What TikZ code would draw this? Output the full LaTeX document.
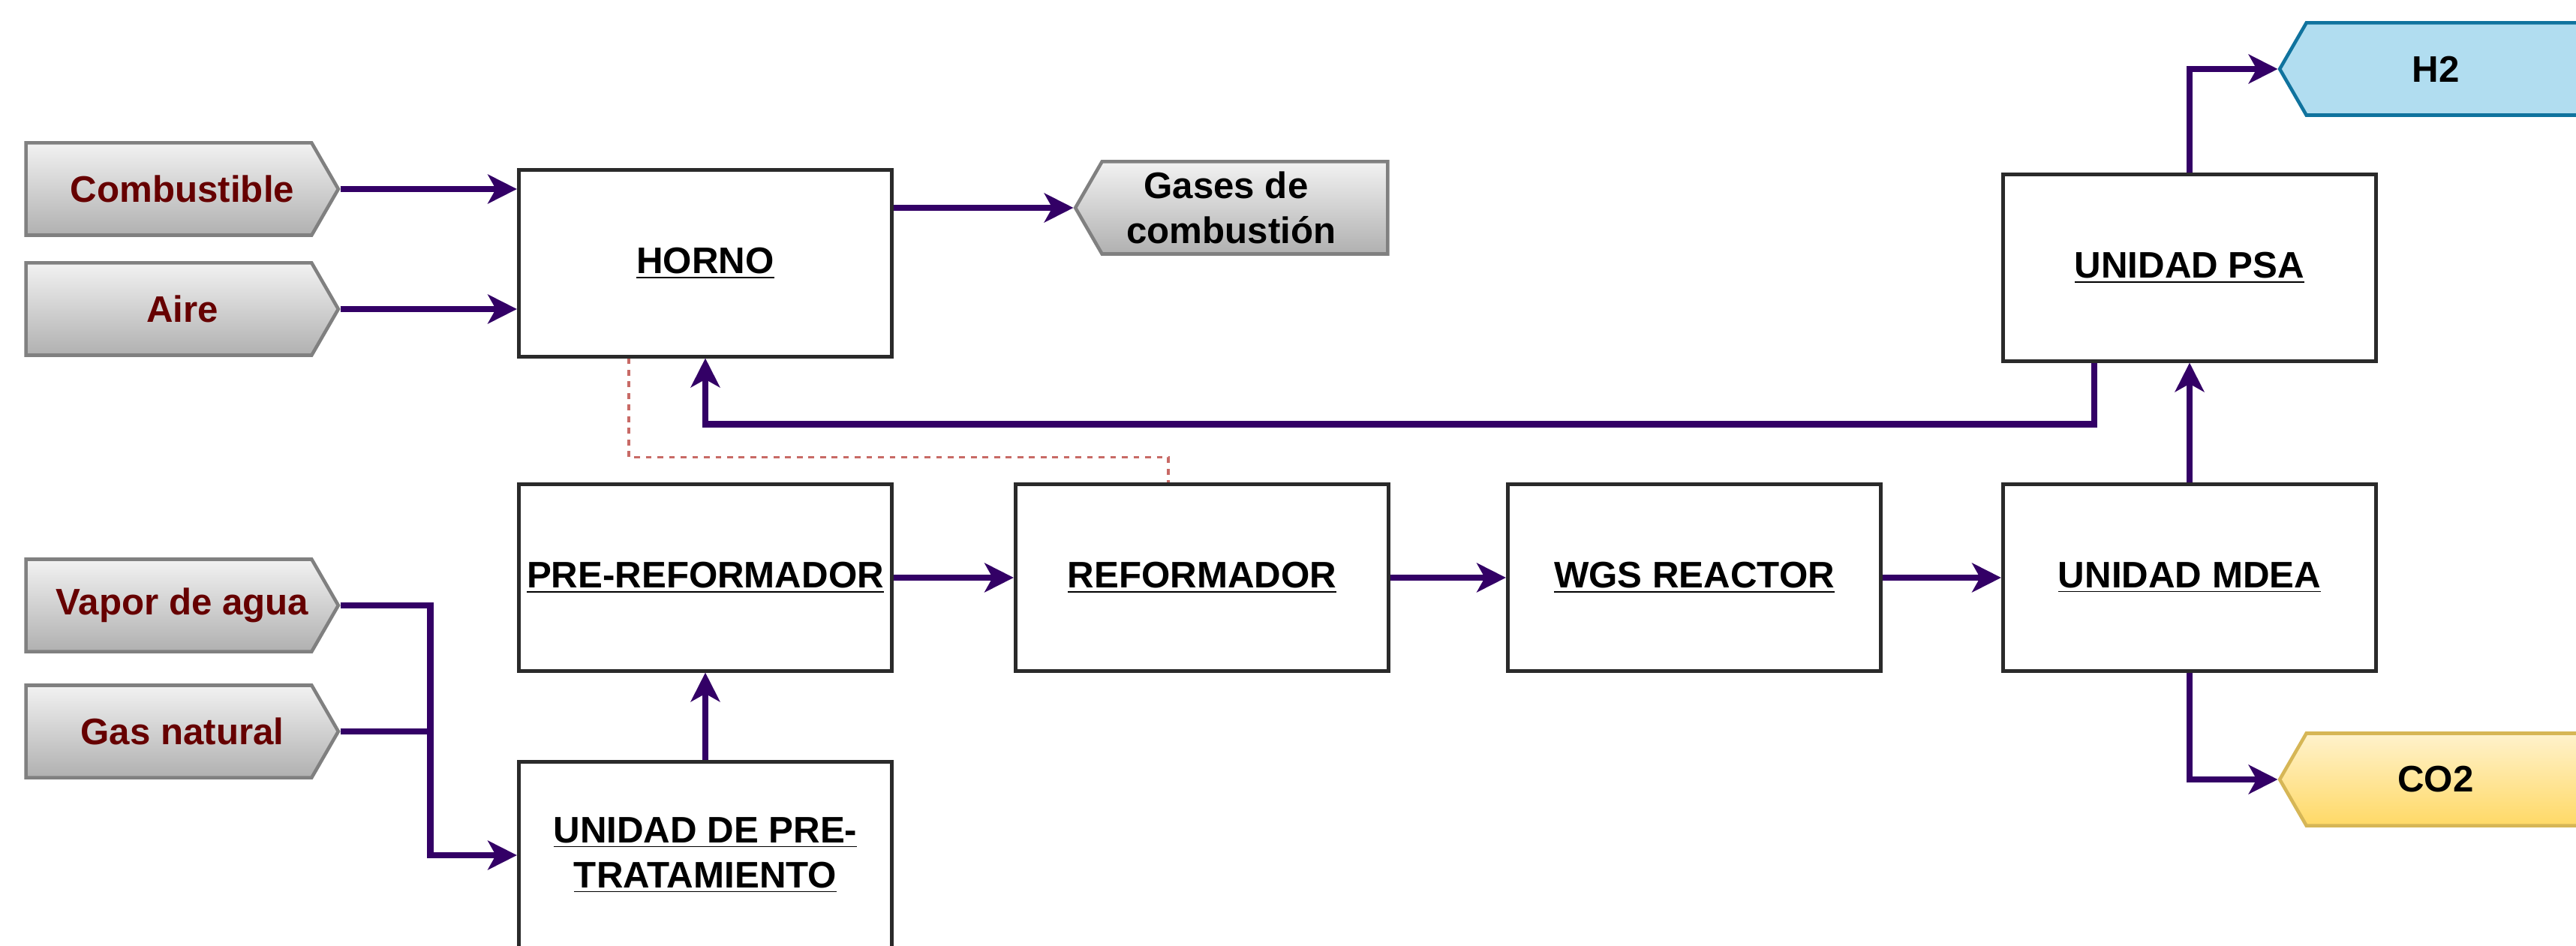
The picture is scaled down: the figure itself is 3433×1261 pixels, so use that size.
\documentclass[tikz,border=0pt]{standalone}
\usepackage{fontspec}
\setmainfont{Liberation Sans}
\usetikzlibrary{arrows.meta,shapes.symbols,shadings}
\definecolor{flowc}{HTML}{330066}
\definecolor{boxc}{HTML}{2A2A2A}
\definecolor{redc}{HTML}{C86A66}
\definecolor{srcb}{HTML}{808080}
\definecolor{srctop}{HTML}{F2F2F2}
\definecolor{srcbot}{HTML}{B0B0B0}
\definecolor{srctext}{HTML}{660000}
\definecolor{hfill}{HTML}{B1DDF0}
\definecolor{hdraw}{HTML}{10739E}
\definecolor{ctop}{HTML}{FFF2CC}
\definecolor{cbot}{HTML}{FFD966}
\definecolor{cdraw}{HTML}{D6B656}
\newcommand{\padL}{\hspace*{0.36cm}}
\begin{document}
\begin{tikzpicture}[x=0.01cm,y=-0.01cm,
  lbl/.style={font=\fontsize{14}{17}\selectfont\bfseries, align=center},
  box/.style={lbl, draw=boxc, line width=1.4pt, fill=white, minimum width=4.97cm, minimum height=2.48cm, inner sep=0pt},
  shp/.style={lbl, signal, signal pointer angle=120, line width=1.3pt, minimum width=4.16cm, minimum height=1.23cm, inner sep=0pt},
  src/.style={shp, signal to=east, draw=srcb, top color=srctop, bottom color=srcbot, text=srctext},
  snk/.style={shp, signal to=west, signal from=nowhere},
  pipe/.style={draw=flowc, line width=2.4pt},
  flow/.style={pipe, -{Stealth[length=11pt,width=11pt,inset=3pt]}},
  link/.style={draw=redc, line width=1.1pt, dash pattern=on 2.2pt off 2.2pt}]
\useasboundingbox (0,0) rectangle (3433,1261);
% boxes
\node[box] (horno) at (940,351) {\underline{HORNO}};
\node[box] (psa) at (2918,357) {\underline{UNIDAD PSA}};
\node[box] (preref) at (940,770) {\underline{PRE-REFORMADOR}};
\node[box] (ref) at (1602,770) {\underline{REFORMADOR}};
\node[box] (wgs) at (2258,770) {\underline{WGS REACTOR}};
\node[box] (mdea) at (2918,770) {\underline{UNIDAD MDEA}};
\node[box] (pretrat) at (940,1140) {\underline{UNIDAD DE PRE-}\\\underline{TRATAMIENTO}};
% inputs
\node[src] (comb) at (225,252) {\padL Combustible};
\node[src] (aire) at (225,412) {\padL Aire};
\node[src] (vapor) at (225,807) {\padL Vapor de agua};
\node[src] (gas) at (225,975) {\padL Gas natural};
% outputs
\node[snk, draw=srcb, top color=srctop, bottom color=srcbot] (gases) at (1659,277) {Gases de\hspace*{0.5cm}\\combustión\padL};
\node[snk, draw=hdraw, fill=hfill] (h2) at (3264,92) {H2\padL};
\node[snk, draw=cdraw, top color=ctop, bottom color=cbot] (co2) at (3264,1039) {CO2\padL};
% connectors
\draw[flow] (comb.east) -- (comb.east -| horno.west);
\draw[flow] (aire.east) -- (aire.east -| horno.west);
\draw[flow] (horno.east |- gases.west) -- (gases.west);
\draw[flow] (psa.north) |- (h2.west);
\draw[flow] ([xshift=-1.27cm]psa.south) -- ++(0,82) -| (horno.south);
\draw[link] ([xshift=-1.02cm]horno.south) -- ++(0,132) -| ([xshift=-0.45cm]ref.north);
\draw[flow] (preref) -- (ref);
\draw[flow] (ref) -- (wgs);
\draw[flow] (wgs) -- (mdea);
\draw[flow] (mdea) -- (psa);
\draw[flow] (mdea.south) |- (co2.west);
\draw[pipe] (gas.east) -- ++(120,0);
\draw[flow] (vapor.east) -- ++(120,0) |- (pretrat.west);
\draw[flow] (pretrat) -- (preref);
\end{tikzpicture}
\end{document}
